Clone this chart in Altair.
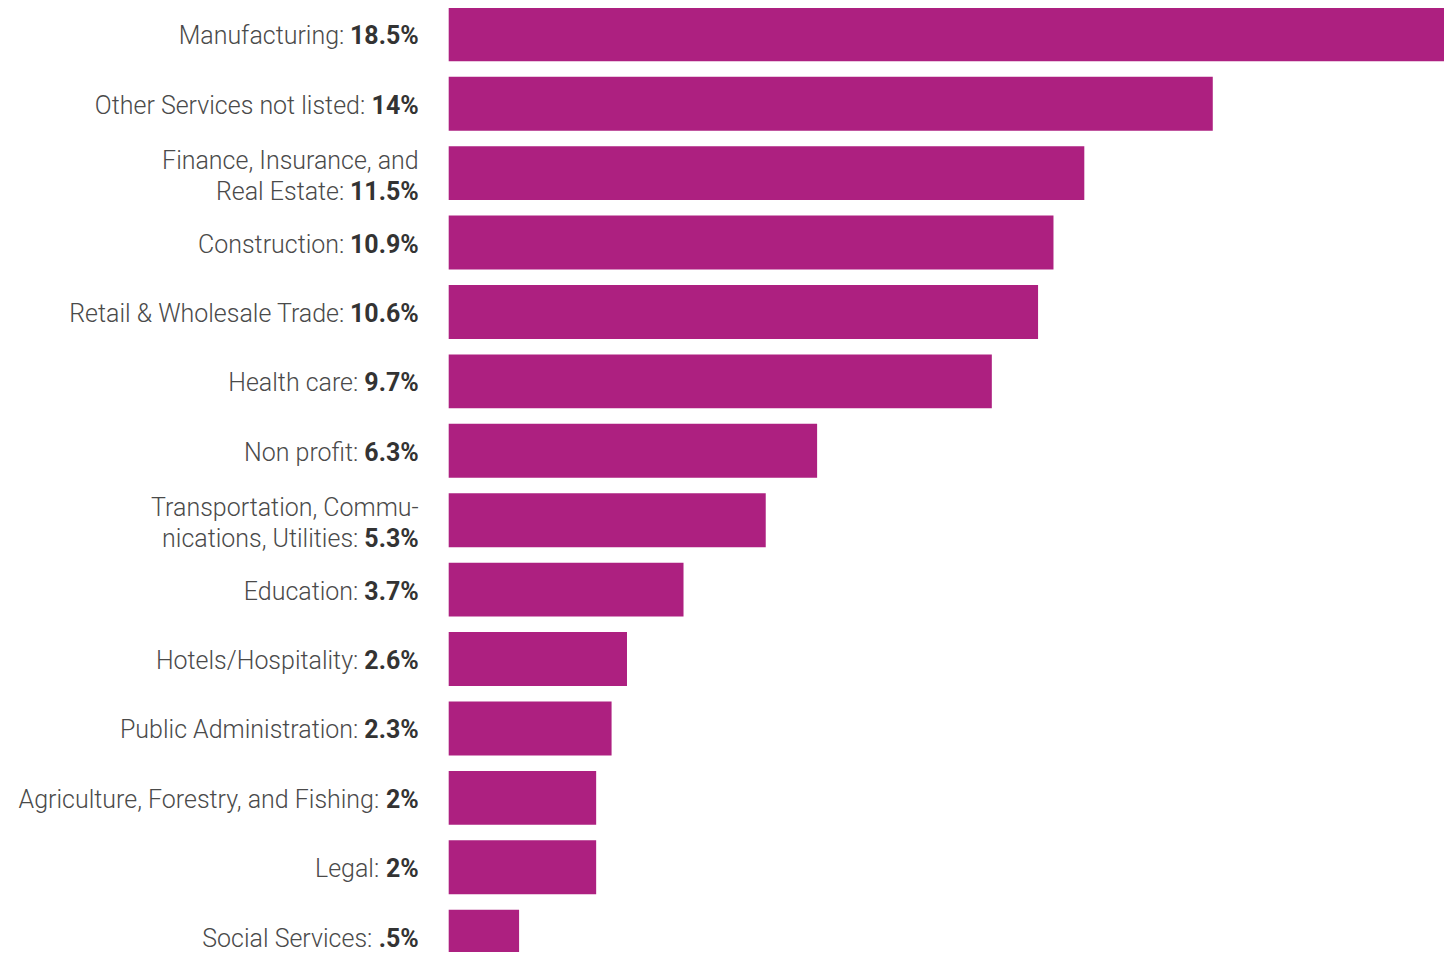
import altair as alt
import pandas as pd

# ---- data ----
names = [
    "Manufacturing", "Other Services not listed", "Finance, Insurance, and Real Estate",
    "Construction", "Retail & Wholesale Trade", "Health care", "Non profit",
    "Transportation, Communications, Utilities", "Education", "Hotels/Hospitality",
    "Public Administration", "Agriculture, Forestry, and Fishing", "Legal", "Social Services",
]
first_lines = [
    "", "", "Finance, Insurance, and", "", "", "", "",
    "Transportation, Commu-", "", "", "", "", "", "",
]
last_lines = [
    "Manufacturing:", "Other Services not listed:", "Real Estate:", "Construction:",
    "Retail & Wholesale Trade:", "Health care:", "Non profit:", "nications, Utilities:",
    "Education:", "Hotels/Hospitality:", "Public Administration:",
    "Agriculture, Forestry, and Fishing:", "Legal:", "Social Services:",
]
values = [18.5, 14, 11.5, 10.9, 10.6, 9.7, 6.3, 5.3, 3.7, 2.6, 2.3, 2, 2, 0.5]
value_labels = ["18.5%", "14%", "11.5%", "10.9%", "10.6%", "9.7%", "6.3%", "5.3%",
                "3.7%", "2.6%", "2.3%", "2%", "2%", ".5%"]

df = pd.DataFrame({
    "name": names, "first": first_lines, "last": last_lines,
    "value": values, "vl": value_labels,
})

BAR = "#AD2080"
REG_COLOR = "#4a4a4a"
BOLD_COLOR = "#333333"
FONT = "Roboto"
FS = 25
BFS = 25
RIGHT = -30  # label right edge relative to plot left (pixels)
XMIN = -0.87

y_enc = alt.Y("name:N", sort=names, axis=None,
              scale=alt.Scale(paddingInner=0.223, paddingOuter=0))

base = alt.Chart(df)

bars = base.mark_bar(color=BAR).encode(
    x=alt.X("value:Q", axis=None,
            scale=alt.Scale(domain=[XMIN, 18.5], nice=False, zero=False)),
    x2=alt.datum(XMIN),
    y=y_enc,
)

# estimated width of the bold value text (Roboto Bold metrics)
bw = (f"{BFS}*(0.5615*length(replace(datum.vl, regexp('[^0-9]','g'), ''))"
      f" + 0.276*length(replace(datum.vl, regexp('[^.]','g'), '')) + 0.74)")

def layers(single, dy_last):
    flt = "datum.first == ''" if single else "datum.first != ''"
    sub = base.transform_filter(flt).transform_calculate(
        off=f"{RIGHT} - 7 - {bw}"
    )
    bold = sub.mark_text(align="right", baseline="alphabetic", dy=dy_last,
                         font=FONT, fontSize=BFS, fontWeight="bold",
                         color=BOLD_COLOR).encode(
        x=alt.value(RIGHT), y=y_enc, text="vl:N")
    reg = sub.mark_text(align="right", baseline="alphabetic", dy=dy_last,
                        font=FONT, fontSize=FS, fontWeight=300,
                        color=REG_COLOR).encode(
        x=alt.X("off:Q", scale=None), y=y_enc, text="last:N")
    out = [bold, reg]
    if not single:
        first = sub.mark_text(align="right", baseline="alphabetic", dy=-4,
                              font=FONT, fontSize=FS, fontWeight=300,
                              color=REG_COLOR).encode(
            x=alt.value(RIGHT), y=y_enc, text="first:N")
        out.append(first)
    return out

chart = alt.layer(bars, *layers(True, 10), *layers(False, 27)).properties(
    width=996, height=957,
    autosize=alt.AutoSizeParams(type="none"),
    padding={"left": 441, "top": -1, "right": 0, "bottom": -12},
).configure_view(stroke=None)

chart.save("out.html", embed_options={"renderer": "svg", "actions": False})
